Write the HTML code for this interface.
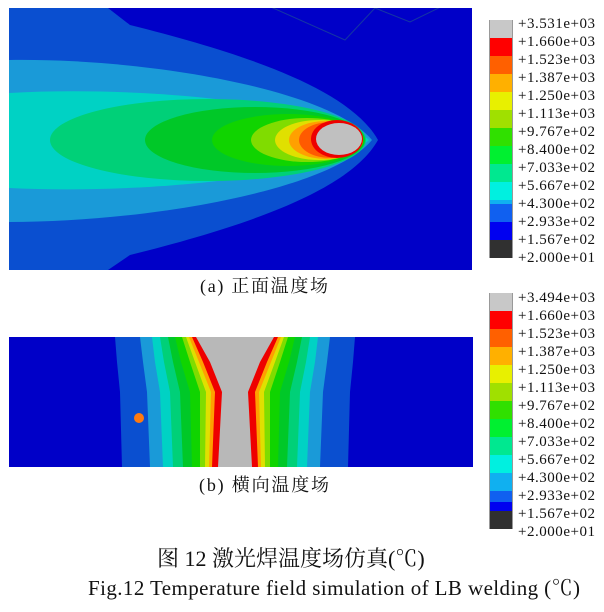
<!DOCTYPE html>
<html><head><meta charset="utf-8"><style>
body{margin:0;background:#fff;width:604px;height:612px;overflow:hidden}
svg{display:block}
text{font-family:"Liberation Serif","Noto Serif CJK SC","Noto Sans CJK SC",serif;fill:#111}
</style></head><body>
<svg width="604" height="612" viewBox="0 0 604 612" xmlns="http://www.w3.org/2000/svg">
<defs><clipPath id="c1"><rect x="9" y="8" width="463" height="262"/></clipPath>
<clipPath id="c2"><rect x="9" y="337" width="464" height="130"/></clipPath></defs>
<g clip-path="url(#c1)">
<rect x="9" y="8" width="463" height="262" fill="#0000c8"/>
<path d="M9,8 L108,8 L130,25 C250,55 350,90 378,140 C350,190 250,225 130,255 L108,270 L9,270 Z" fill="#0a4fd0"/>
<path d="M9,60 C150,58 330,90 372,140 C330,190 150,222 9,222 Z" fill="#1a9ad8"/>
<path d="M9,93 C150,85 330,105 369,140 C330,175 150,195 9,188 Z" fill="#00d2c4"/>
<ellipse cx="208" cy="140" rx="158" ry="41" fill="#00d078"/>
<ellipse cx="255" cy="140" rx="110" ry="33" fill="#00c828"/>
<ellipse cx="288" cy="140" rx="76" ry="26" fill="#10d400"/>
<ellipse cx="307" cy="140" rx="56" ry="22" fill="#80dc00"/>
<ellipse cx="319" cy="140" rx="44" ry="20" fill="#e0e000"/>
<ellipse cx="326" cy="140" rx="37" ry="19" fill="#ffa000"/>
<ellipse cx="331" cy="140" rx="32" ry="18" fill="#ff5a00"/>
<ellipse cx="337" cy="139" rx="26" ry="19" fill="#ee0000"/>
<ellipse cx="339" cy="139" rx="23" ry="16" fill="#c0c0c0"/>
<polyline points="255,0 345,40 375,8 410,22 455,0" fill="none" stroke="#3a9a60" stroke-width="1" opacity="0.35"/>
</g>
<g clip-path="url(#c2)">
<rect x="9" y="337" width="464" height="130" fill="#0000c8"/>
<polygon points="115,337 117,362 120,392 122,467 348,467 350,392 353,362 355,337" fill="#0a4fd0"/>
<polygon points="140,337 143,362 147,392 150,467 320,467 323,392 327,362 330,337" fill="#1a9ad8"/>
<polygon points="152,337 155,362 160,392 163,467 307,467 310,392 315,362 318,337" fill="#00d2c4"/>
<polygon points="160,337 164,362 170,392 173,467 297,467 300,392 306,362 310,337" fill="#00d078"/>
<polygon points="168,337 173,362 180,392 183,467 287,467 290,392 297,362 302,337" fill="#00c828"/>
<polygon points="175,337 181,362 190,392 192,467 278,467 280,392 289,362 295,337" fill="#10d400"/>
<polygon points="182,337 190,362 200,392 200,467 270,467 270,392 280,362 288,337" fill="#80dc00"/>
<polygon points="186,337 195,362 206,392 205,467 265,467 264,392 275,362 284,337" fill="#e0e000"/>
<polygon points="189,337 199,362 211,392 209,467 261,467 259,392 271,362 281,337" fill="#ffa000"/>
<polygon points="192,337 203,362 215,392 212,467 258,467 255,392 267,362 278,337" fill="#ee0000"/>
<polygon points="196,337 210,362 222,392 218,467 252,467 248,392 260,362 274,337" fill="#b8b8b8"/>
<circle cx="139" cy="418" r="5" fill="#ff7a10"/>
</g>
<g>
<rect x="489" y="20" width="24" height="238" fill="#999"/>
<rect x="490" y="20" width="22" height="18" fill="#c8c8c8"/>
<rect x="490" y="38" width="22" height="18" fill="#ff0000"/>
<rect x="490" y="56" width="22" height="18" fill="#ff6000"/>
<rect x="490" y="74" width="22" height="18" fill="#ffb000"/>
<rect x="490" y="92" width="22" height="18" fill="#e8f000"/>
<rect x="490" y="110" width="22" height="18" fill="#a0e000"/>
<rect x="490" y="128" width="22" height="18" fill="#30e000"/>
<rect x="490" y="146" width="22" height="18" fill="#00f030"/>
<rect x="490" y="164" width="22" height="18" fill="#00e890"/>
<rect x="490" y="182" width="22" height="18" fill="#00f0e0"/>
<rect x="490" y="200" width="22" height="18" fill="#10b0f0"/>
<rect x="490" y="204" width="22" height="18" fill="#1060f0"/>
<rect x="490" y="222" width="22" height="18" fill="#0000f0"/>
<rect x="490" y="240" width="22" height="18" fill="#303030"/>
</g>
<g font-size="15">
<text x="518" y="28" textLength="77">+3.531e+03</text><text x="518" y="46" textLength="77">+1.660e+03</text><text x="518" y="64" textLength="77">+1.523e+03</text><text x="518" y="82" textLength="77">+1.387e+03</text><text x="518" y="100" textLength="77">+1.250e+03</text><text x="518" y="118" textLength="77">+1.113e+03</text><text x="518" y="136" textLength="77">+9.767e+02</text><text x="518" y="154" textLength="77">+8.400e+02</text><text x="518" y="172" textLength="77">+7.033e+02</text><text x="518" y="190" textLength="77">+5.667e+02</text><text x="518" y="208" textLength="77">+4.300e+02</text><text x="518" y="226" textLength="77">+2.933e+02</text><text x="518" y="244" textLength="77">+1.567e+02</text><text x="518" y="262" textLength="77">+2.000e+01</text>
</g>
<g>
<rect x="489" y="293" width="24" height="236" fill="#999"/>
<rect x="490" y="293" width="22" height="18" fill="#c8c8c8"/>
<rect x="490" y="311" width="22" height="18" fill="#ff0000"/>
<rect x="490" y="329" width="22" height="18" fill="#ff6000"/>
<rect x="490" y="347" width="22" height="18" fill="#ffb000"/>
<rect x="490" y="365" width="22" height="18" fill="#e8f000"/>
<rect x="490" y="383" width="22" height="18" fill="#a0e000"/>
<rect x="490" y="401" width="22" height="18" fill="#30e000"/>
<rect x="490" y="419" width="22" height="18" fill="#00f030"/>
<rect x="490" y="437" width="22" height="18" fill="#00e890"/>
<rect x="490" y="455" width="22" height="18" fill="#00f0e0"/>
<rect x="490" y="473" width="22" height="18" fill="#10b0f0"/>
<rect x="490" y="491" width="22" height="18" fill="#1060f0"/>
<rect x="490" y="502" width="22" height="10" fill="#0000f0"/>
<rect x="490" y="511" width="22" height="18" fill="#303030"/>
</g>
<g font-size="15">
<text x="518" y="302" textLength="77">+3.494e+03</text><text x="518" y="320" textLength="77">+1.660e+03</text><text x="518" y="338" textLength="77">+1.523e+03</text><text x="518" y="356" textLength="77">+1.387e+03</text><text x="518" y="374" textLength="77">+1.250e+03</text><text x="518" y="392" textLength="77">+1.113e+03</text><text x="518" y="410" textLength="77">+9.767e+02</text><text x="518" y="428" textLength="77">+8.400e+02</text><text x="518" y="446" textLength="77">+7.033e+02</text><text x="518" y="464" textLength="77">+5.667e+02</text><text x="518" y="482" textLength="77">+4.300e+02</text><text x="518" y="500" textLength="77">+2.933e+02</text><text x="518" y="518" textLength="77">+1.567e+02</text><text x="518" y="536" textLength="77">+2.000e+01</text>
</g>
<text x="200" y="292" font-size="18" textLength="128">(a) 正面温度场</text>
<text x="199" y="491" font-size="18" textLength="130">(b) 横向温度场</text>
<text x="157" y="566" font-size="22">图 12  激光焊温度场仿真(℃)</text>
<text x="88" y="595" font-size="21" textLength="492">Fig.12  Temperature field simulation of LB welding (℃)</text>
</svg>
</body></html>
